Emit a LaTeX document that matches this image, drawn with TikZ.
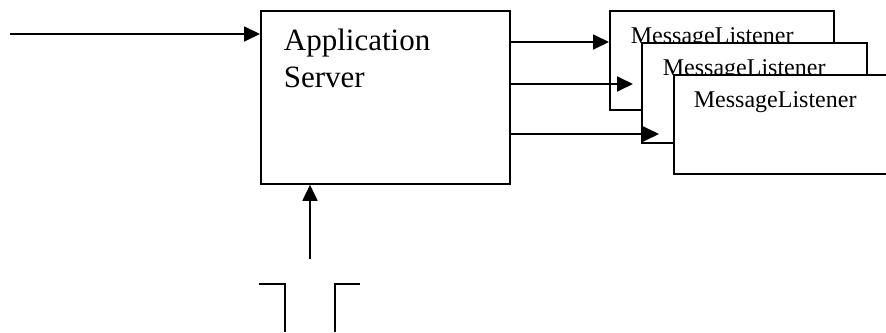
\documentclass[tikz,border=0pt]{standalone}
\usepackage{fontspec}
\setmainfont{Liberation Serif}
\usetikzlibrary{arrows.meta}
\begin{document}
\begin{tikzpicture}[x=1pt,y=-1pt,
  line width=1.8pt,
  box/.style={draw,fill=white,inner sep=0pt,anchor=north west,line width=1.8pt},
  apptext/.style={inner sep=0pt,anchor=base west,font=\fontsize{31}{37}\selectfont},
  mltext/.style={inner sep=0pt,anchor=base west,font=\fontsize{24}{28}\selectfont},
  arr/.style={-{Triangle[length=16pt,width=15pt]},line width=1.8pt}]
\useasboundingbox (0,0) rectangle (886,332);
\clip (0,0) rectangle (886,332);
% application server
\node[box,minimum width=249pt,minimum height=173pt] (app) at (260,10) {};
\node[apptext] (apptxt1) at (283,50) {Application};
\node[apptext] (apptxt2) at (283,87) {Server};
% message listeners
\node[box,minimum width=224pt,minimum height=99pt] (ml1) at (609,10) {};
\node[mltext] (ml1t) at (630,43) {MessageListener};
\node[box,minimum width=225pt,minimum height=100pt] (ml2) at (641,42) {};
\node[mltext] (ml2t) at (662,75) {MessageListener};
\node[box,minimum width=225pt,minimum height=99pt] (ml3) at (673,74) {};
\node[mltext] (ml3t) at (693,107) {MessageListener};
% coordinates
\coordinate (in) at (10,34);
\coordinate (a1) at (509,42);
\coordinate (a2) at (509,84);
\coordinate (a3) at (509,134);
\coordinate (t2) at (633,84);
\coordinate (t3) at (659,134);
\coordinate (up) at (310,259);
% arrows
\draw[arr] (in) -- (app.west |- in);
\draw[arr] (a1) -- (ml1.west |- a1);
\draw[arr] (a2) -- (t2);
\draw[arr] (a3) -- (t3);
\draw[arr] (up) -- (app.south -| up);
% bottom brackets
\coordinate (b1) at (259,284);
\coordinate (b2) at (285,284);
\coordinate (b3) at (285,332);
\coordinate (c1) at (360,284);
\coordinate (c2) at (335,284);
\coordinate (c3) at (335,332);
\draw (b1) -- (b2) -- (b3);
\draw (c1) -- (c2) -- (c3);
\end{tikzpicture}
\end{document}
